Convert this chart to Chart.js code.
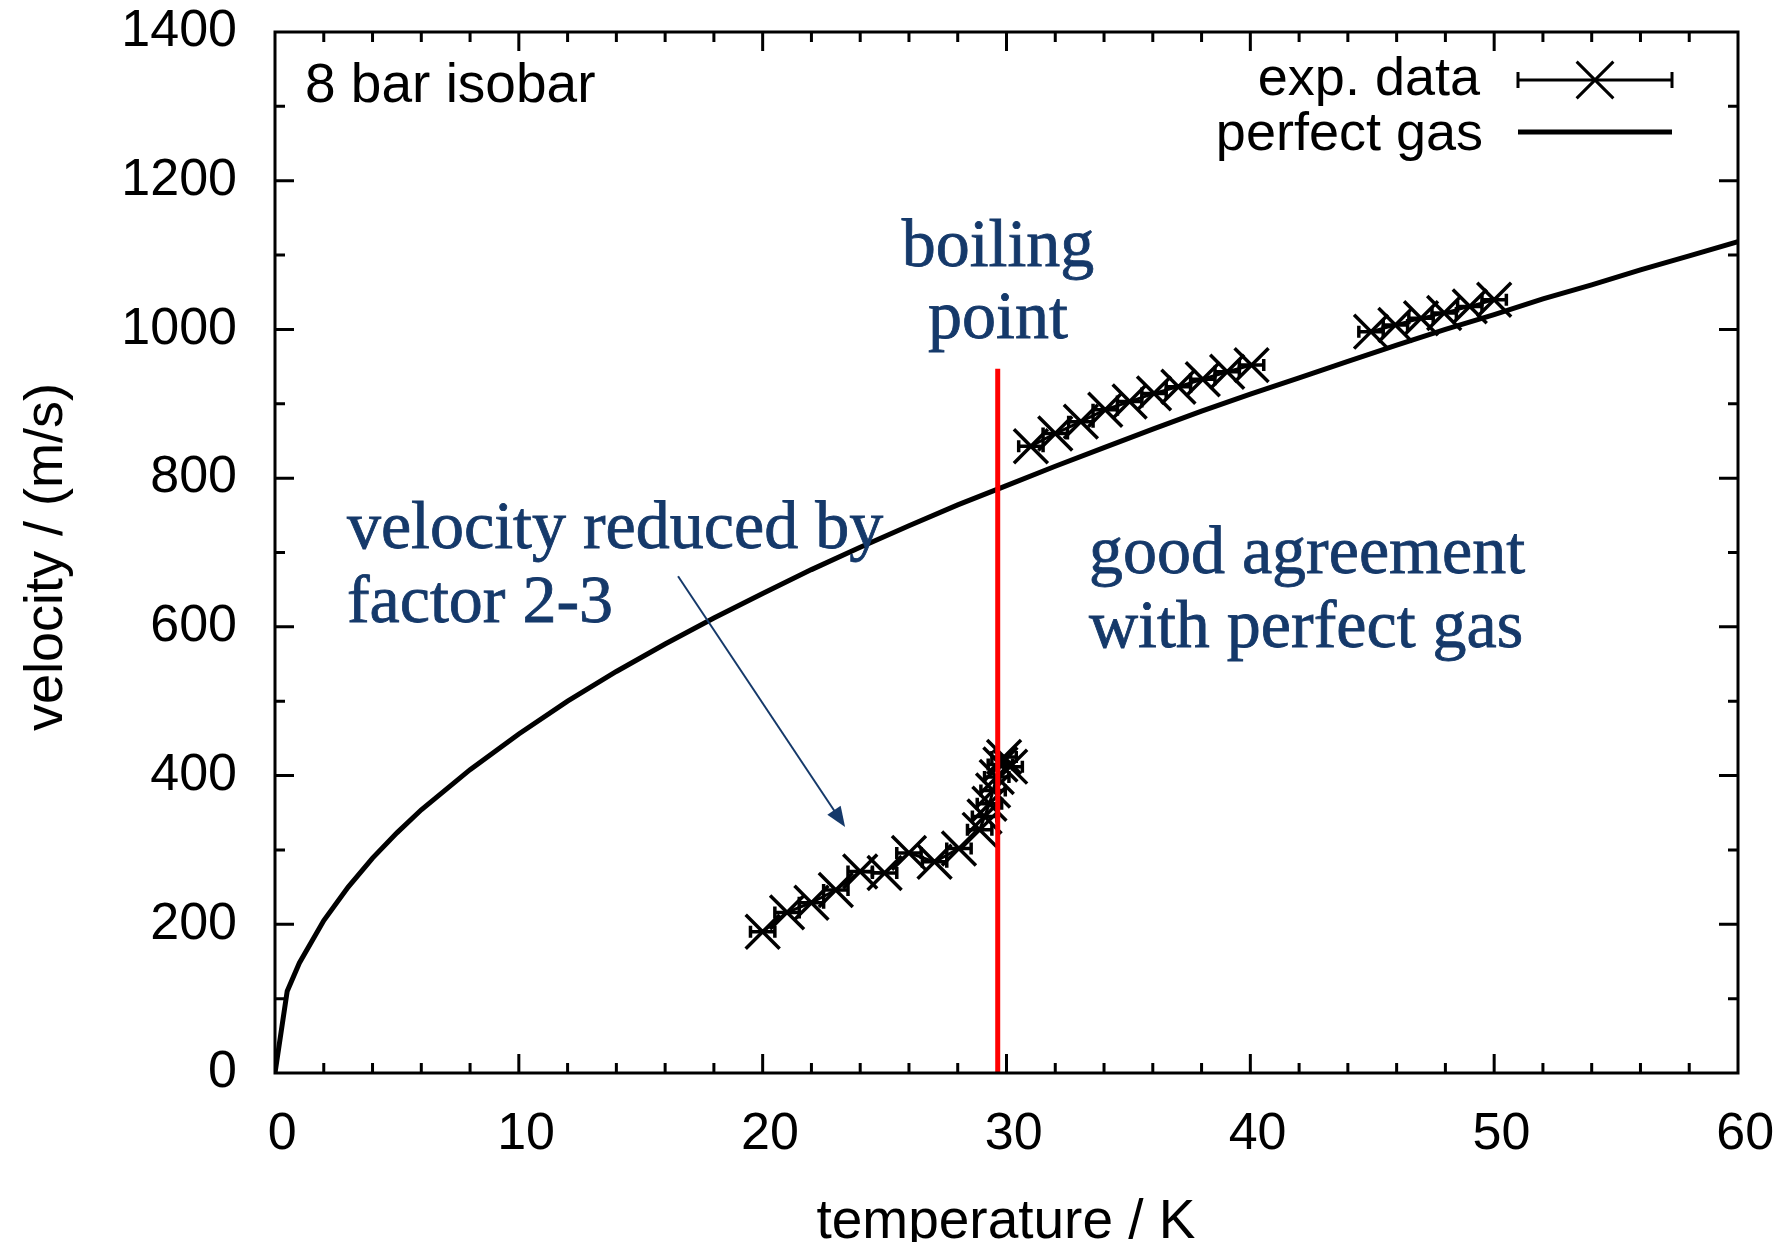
<!DOCTYPE html>
<html>
<head>
<meta charset="utf-8">
<script src="https://cdn.jsdelivr.net/npm/chart.js@4.4.1/dist/chart.umd.min.js"></script>
<style>
  html, body { margin: 0; padding: 0; background: #fff; }
  canvas { display: block; }
</style>
</head>
<body>
<canvas id="velChart" width="1790" height="1242"></canvas>
<script>
// perfect gas curve
const gasT = [0, 0.5, 1, 2, 3, 4, 5, 6, 8, 10, 12, 14, 16, 18, 20, 22, 24, 26, 28, 30,
  32, 34, 36, 38, 40, 42, 44, 46, 48, 50, 52, 54, 56, 58, 60];
const gasV = [0, 110, 148, 205, 250, 289, 323, 354, 408, 456, 500, 540, 577, 612, 645, 677, 707, 736, 764, 790,
  816, 841, 866, 890, 913, 935, 957, 979, 1000, 1020, 1041, 1060, 1080, 1099, 1118];

// exp. data, three runs, with temperature error
const lowT = [20.0, 21.0, 22.0, 23.0, 24.0, 25.0, 26.0, 27.05, 28.05, 28.9, 29.1, 29.3, 29.45, 29.6, 29.75, 29.9, 30.15];
const lowV = [190, 216, 229, 246, 271, 269, 296, 284, 302, 327, 345, 362, 380, 398, 415, 425, 412];
const midT = [31.0, 32.0, 33.05, 34.05, 35.05, 36.05, 37.05, 38.05, 39.05, 40.05];
const midV = [843, 860, 876, 892, 903, 914, 923, 933, 943, 952];
const highT = [44.95, 45.95, 47.0, 47.95, 49.0, 50.0];
const highV = [997, 1006, 1015, 1022, 1031, 1040];
const errT = 0.5;

// boiling point marker
const boilingT = 29.64;
const boilingTop = 947;

// tick labels
const xTicks = [0, 10, 20, 30, 40, 50, 60];
const yTicks = [0, 200, 400, 600, 800, 1000, 1200, 1400];

const sans = "'Liberation Sans', Arial, sans-serif";
const serif = "'Liberation Serif', 'Times New Roman', serif";
const navy = "#15396a";

function toPoints(xs, ys) {
  return xs.map((x, i) => ({ x: x, y: ys[i] }));
}

function expDataset(xs, ys) {
  return {
    label: "exp. data",
    data: toPoints(xs, ys),
    borderColor: "#000",
    backgroundColor: "#000",
    borderWidth: 3,
    pointStyle: "crossRot",
    pointRadius: 24,
    pointBorderWidth: 3.5,
    pointBorderColor: "#000",
    tension: 0,
    order: 1
  };
}

// ticks, error bars, legend and notes
const decorations = {
  id: "decorations",
  beforeDatasetsDraw(chart) {
    const { ctx, scales: { x, y } } = chart;
    ctx.save();
    ctx.strokeStyle = "#000";
    ctx.lineWidth = 3.5;
    [[lowT, lowV], [midT, midV], [highT, highV]].forEach(([ts, vs]) => {
      ts.forEach((t, i) => {
        const x1 = x.getPixelForValue(t - errT);
        const x2 = x.getPixelForValue(t + errT);
        const py = y.getPixelForValue(vs[i]);
        ctx.beginPath();
        ctx.moveTo(x1, py); ctx.lineTo(x2, py);
        ctx.moveTo(x1, py - 6); ctx.lineTo(x1, py + 6);
        ctx.moveTo(x2, py - 6); ctx.lineTo(x2, py + 6);
        ctx.stroke();
      });
    });
    ctx.restore();
  },
  afterDraw(chart) {
    const { ctx, chartArea: a, scales: { x, y } } = chart;
    ctx.save();

    // frame + inward ticks on all sides
    ctx.strokeStyle = "#000";
    ctx.lineWidth = 3;
    ctx.strokeRect(a.left, a.top, a.right - a.left, a.bottom - a.top);
    ctx.beginPath();
    for (let t = 2; t < 60; t += 2) {
      const len = t % 10 === 0 ? 19 : 10;
      const px = x.getPixelForValue(t);
      ctx.moveTo(px, a.bottom); ctx.lineTo(px, a.bottom - len);
      ctx.moveTo(px, a.top); ctx.lineTo(px, a.top + len);
    }
    for (let v = 100; v < 1400; v += 100) {
      const len = v % 200 === 0 ? 19 : 10;
      const py = y.getPixelForValue(v);
      ctx.moveTo(a.left, py); ctx.lineTo(a.left + len, py);
      ctx.moveTo(a.right, py); ctx.lineTo(a.right - len, py);
    }
    ctx.stroke();

    // axis titles
    ctx.fillStyle = "#000";
    ctx.font = "55px " + sans;
    ctx.textAlign = "center";
    ctx.textBaseline = "alphabetic";
    ctx.fillText("temperature / K", 1006, 1238);
    ctx.save();
    ctx.translate(62, 557);
    ctx.rotate(-Math.PI / 2);
    ctx.font = "54px " + sans;
    ctx.fillText("velocity / (m/s)", 0, 0);
    ctx.restore();

    // panel label
    ctx.font = "55px " + sans;
    ctx.textAlign = "left";
    ctx.fillText("8 bar isobar", a.left + 30, a.top + 70);

    // legend
    const ds = chart.data.datasets;
    ctx.font = "54px " + sans;
    ctx.textAlign = "right";
    ctx.fillText(ds[1].label, a.right - 258, a.top + 63);
    ctx.fillText(ds[0].label, a.right - 255, a.top + 118);
    const lx1 = a.right - 220, lx2 = a.right - 66;
    const ly1 = a.top + 48, ly2 = a.top + 100;
    ctx.lineWidth = 3;
    ctx.beginPath();
    ctx.moveTo(lx1, ly1); ctx.lineTo(lx2, ly1);
    ctx.moveTo(lx1, ly1 - 8); ctx.lineTo(lx1, ly1 + 8);
    ctx.moveTo(lx2, ly1 - 8); ctx.lineTo(lx2, ly1 + 8);
    ctx.stroke();
    Chart.helpers.drawPoint(ctx, { pointStyle: "crossRot", radius: 26, borderWidth: 3 }, (lx1 + lx2) / 2, ly1);
    ctx.lineWidth = 5;
    ctx.beginPath();
    ctx.moveTo(lx1, ly2); ctx.lineTo(lx2, ly2);
    ctx.stroke();

    // notes (slight stroke to get a heavier serif)
    ctx.fillStyle = navy;
    ctx.strokeStyle = navy;
    ctx.lineWidth = 0.8;
    ctx.font = "68px " + serif;
    const note = (txt, t, v, align) => {
      ctx.textAlign = align;
      const px = x.getPixelForValue(t), py = y.getPixelForValue(v);
      ctx.fillText(txt, px, py);
      ctx.strokeText(txt, px, py);
    };
    note("boiling", 29.65, 1085, "center");
    note("point", 29.65, 988, "center");
    note("velocity reduced by", 2.95, 706, "left");
    note("factor 2-3", 2.95, 607, "left");
    note("good agreement", 33.38, 672, "left");
    note("with perfect gas", 33.38, 573, "left");

    // arrow
    const sx = x.getPixelForValue(16.53), sy = y.getPixelForValue(668);
    const ex = x.getPixelForValue(23.38), ey = y.getPixelForValue(331);
    const ang = Math.atan2(ey - sy, ex - sx);
    ctx.lineWidth = 2;
    ctx.beginPath();
    ctx.moveTo(sx, sy);
    ctx.lineTo(ex - 14 * Math.cos(ang), ey - 14 * Math.sin(ang));
    ctx.stroke();
    ctx.beginPath();
    ctx.moveTo(ex, ey);
    ctx.lineTo(ex - 20 * Math.cos(ang) + 8 * Math.sin(ang), ey - 20 * Math.sin(ang) - 8 * Math.cos(ang));
    ctx.lineTo(ex - 20 * Math.cos(ang) - 8 * Math.sin(ang), ey - 20 * Math.sin(ang) + 8 * Math.cos(ang));
    ctx.closePath();
    ctx.fill();

    ctx.restore();
  }
};

const ctx = document.getElementById("velChart").getContext("2d");

new Chart(ctx, {
  type: "line",
  data: {
    datasets: [
      {
        label: "perfect gas",
        data: toPoints(gasT, gasV),
        borderColor: "#000",
        borderWidth: 5,
        pointRadius: 0,
        tension: 0,
        order: 2
      },
      expDataset(lowT, lowV),
      expDataset(midT, midV),
      expDataset(highT, highV),
      {
        label: "boiling point",
        data: [{ x: boilingT, y: 0 }, { x: boilingT, y: boilingTop }],
        borderColor: "#ff0000",
        borderWidth: 5,
        pointRadius: 0,
        order: 0
      }
    ]
  },
  options: {
    responsive: false,
    animation: false,
    events: [],
    layout: { padding: { left: 0, top: 32, right: 52, bottom: 0 } },
    plugins: {
      legend: { display: false },
      tooltip: { enabled: false }
    },
    scales: {
      x: {
        type: "linear",
        min: 0,
        max: 60,
        afterBuildTicks: (s) => { s.ticks = xTicks.map(v => ({ value: v })); },
        afterFit: (s) => { s.height = 169; s.paddingLeft = 0; s.paddingRight = 0; },
        grid: { display: false, drawTicks: false },
        border: { display: false },
        ticks: {
          autoSkip: false,
          maxRotation: 0,
          padding: 30,
          color: "#000",
          font: { family: sans, size: 52 },
          callback: (v) => " " + v
        }
      },
      y: {
        type: "linear",
        min: 0,
        max: 1400,
        afterBuildTicks: (s) => { s.ticks = yTicks.map(v => ({ value: v })); },
        afterFit: (s) => { s.width = 275; s.paddingTop = 0; s.paddingBottom = 0; },
        grid: { display: false, drawTicks: false },
        border: { display: false },
        ticks: {
          padding: 38,
          color: "#000",
          font: { family: sans, size: 52 },
          callback: (v) => String(v)
        }
      }
    }
  },
  plugins: [decorations]
});
</script>
</body>
</html>
